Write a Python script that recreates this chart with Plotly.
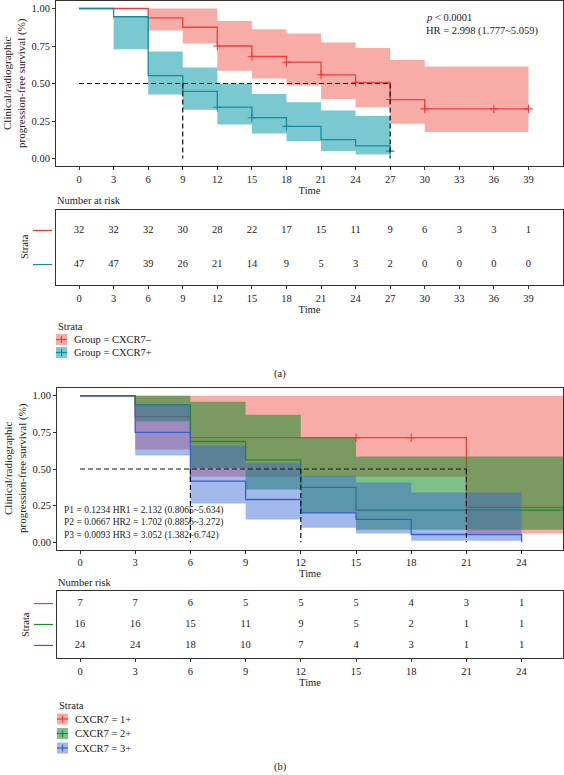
import plotly.graph_objects as go

# ---------------- Panel (a) data ----------------
a_labels = ["Group = CXCR7–", "Group = CXCR7+"]
a_time_neg = [0, 6, 9, 12, 15, 18, 21, 24, 27, 30, 39]
a_surv_neg = [1.0, 0.9375, 0.875, 0.75, 0.68, 0.642, 0.558, 0.508, 0.393, 0.331, 0.331]
a_upper_neg = [1.0, 1.0, 1.0, 0.916, 0.861, 0.834, 0.773, 0.737, 0.658, 0.614, 0.614]
a_lower_neg = [1.0, 0.854, 0.766, 0.585, 0.534, 0.486, 0.397, 0.342, 0.232, 0.177, 0.177]
a_cens_time_neg = [12, 15, 18, 21, 24, 27, 30, 36, 39]
a_cens_surv_neg = [0.75, 0.68, 0.642, 0.558, 0.508, 0.393, 0.331, 0.331, 0.331]

a_time_pos = [0, 3, 6, 9, 12, 15, 18, 21, 24, 27]
a_surv_pos = [1.0, 0.945, 0.552, 0.448, 0.342, 0.272, 0.214, 0.126, 0.084, 0.049]
a_upper_pos = [1.0, 0.945, 0.713, 0.607, 0.50, 0.43, 0.375, 0.32, 0.283, 0.283]
a_lower_pos = [1.0, 0.728, 0.426, 0.325, 0.227, 0.166, 0.117, 0.05, 0.026, 0.026]
a_cens_time_pos = [12, 15, 18, 27]
a_cens_surv_pos = [0.342, 0.272, 0.214, 0.049]

a_medians = [27, 9]
a_risk_times = [0, 3, 6, 9, 12, 15, 18, 21, 24, 27, 30, 33, 36, 39]
a_risk_neg = [32, 32, 32, 30, 28, 22, 17, 15, 11, 9, 6, 3, 3, 1]
a_risk_pos = [47, 47, 39, 26, 21, 14, 9, 5, 3, 2, 0, 0, 0, 0]
a_yticks = [0, 0.25, 0.5, 0.75, 1.0]
a_text = ["<i>p</i> &lt; 0.0001", "HR = 2.998 (1.777~5.059)"]

# ---------------- Panel (b) data ----------------
b_labels = ["CXCR7 = 1+", "CXCR7 = 2+", "CXCR7 = 3+"]
b_time_1 = [0, 3, 6, 21, 27]
b_surv_1 = [1.0, 0.857, 0.714, 0.238, 0.238]
b_upper_1 = [1.0, 1.0, 1.0, 1.0, 1.0]
b_lower_1 = [1.0, 0.633, 0.447, 0.06, 0.06]
b_cens_time_1 = [15, 18]
b_cens_surv_1 = [0.714, 0.714]

b_time_2 = [0, 3, 6, 9, 12, 15, 27]
b_surv_2 = [1.0, 0.9375, 0.6875, 0.5625, 0.375, 0.219, 0.219]
b_upper_2 = [1.0, 1.0, 0.959, 0.87, 0.713, 0.585, 0.585]
b_lower_2 = [1.0, 0.826, 0.507, 0.36, 0.2, 0.085, 0.085]

b_time_3 = [0, 3, 6, 9, 12, 15, 18, 24]
b_surv_3 = [1.0, 0.75, 0.417, 0.292, 0.2, 0.156, 0.053, 0.0]
b_upper_3 = [1.0, 0.943, 0.66, 0.54, 0.454, 0.408, 0.34, 0.34]
b_lower_3 = [1.0, 0.592, 0.264, 0.156, 0.099, 0.06, 0.01, 0.01]

b_medians = [21, 12, 6]
b_risk_times = [0, 3, 6, 9, 12, 15, 18, 21, 24]
b_risk_1 = [7, 7, 6, 5, 5, 5, 4, 3, 1]
b_risk_2 = [16, 16, 15, 11, 9, 5, 2, 1, 1]
b_risk_3 = [24, 24, 18, 10, 7, 4, 3, 1, 1]
b_text = ["P1 = 0.1234 HR1 = 2.132 (0.8065~5.634)",
          "P2 = 0.0667 HR2 = 1.702 (0.8856~3.272)",
          "P3 = 0.0093 HR3 = 3.052 (1.382~6.742)"]

# ---------------- styling ----------------
W, H = 564, 775
FONT = "Liberation Serif"
TXT = "#222222"
FRAME = "#333333"
RED_L, RED_F = "rgb(238,60,58)", "rgba(240,70,62,0.45)"
TEAL_L, TEAL_F = "rgb(24,138,152)", "rgba(0,150,165,0.52)"
GRN_L, GRN_F = "rgb(30,140,48)", "rgba(20,140,40,0.55)"
BLU_L, BLU_F = "rgb(58,92,200)", "rgba(50,100,210,0.45)"


def xp(px):
    return px / W


def yp(py):
    return 1 - py / H


fig = go.Figure()
NOHOV = dict(hoverinfo="skip", showlegend=False)


def add_curves(groups, xa, ya):
    # each stratum: survival step line, then its confidence band on top
    for g in groups:
        fig.add_trace(go.Scatter(x=g["t"], y=g["s"], mode="lines",
                                 line=dict(color=g["lc"], width=1.3, shape="hv"),
                                 xaxis=xa, yaxis=ya, **NOHOV))
        fig.add_trace(go.Scatter(x=g["t"], y=g["lo"], mode="lines",
                                 line=dict(width=0, shape="hv"),
                                 xaxis=xa, yaxis=ya, **NOHOV))
        fig.add_trace(go.Scatter(x=g["t"], y=g["up"], mode="lines", fill="tonexty",
                                 fillcolor=g["fc"], line=dict(width=0, shape="hv"),
                                 xaxis=xa, yaxis=ya, **NOHOV))


def add_cens(groups, xa, ya):
    for g in groups:
        if g.get("ct"):
            fig.add_trace(go.Scatter(x=g["ct"], y=g["cs"], mode="markers",
                                     marker=dict(symbol="cross-thin", size=6,
                                                 line=dict(color=g["lc"], width=1.1)),
                                     xaxis=xa, yaxis=ya, **NOHOV))


def add_medians(meds, xa, ya):
    xs, ys = [0, max(meds)], [0.5, 0.5]
    for m in meds:
        xs += [None, m, m]
        ys += [None, 0.5, 0]
    fig.add_trace(go.Scatter(x=xs, y=ys, mode="lines",
                             line=dict(color="#111111", width=1.2, dash="5px,3px"),
                             xaxis=xa, yaxis=ya, **NOHOV))


def add_risk(times, rows, xa, ya):
    n = len(rows)
    for i, r in enumerate(rows):
        fig.add_trace(go.Scatter(x=times, y=[n - i] * len(times), mode="text",
                                 text=[str(v) for v in r],
                                 textfont=dict(family=FONT, size=10.5, color=TXT),
                                 xaxis=xa, yaxis=ya, **NOHOV))


a_groups = [
    dict(t=a_time_neg, s=a_surv_neg, up=a_upper_neg, lo=a_lower_neg,
         ct=a_cens_time_neg, cs=a_cens_surv_neg, lc=RED_L, fc=RED_F),
    dict(t=a_time_pos, s=a_surv_pos, up=a_upper_pos, lo=a_lower_pos,
         ct=a_cens_time_pos, cs=a_cens_surv_pos, lc=TEAL_L, fc=TEAL_F),
]
b_groups = [
    dict(t=b_time_1, s=b_surv_1, up=b_upper_1, lo=b_lower_1,
         ct=b_cens_time_1, cs=b_cens_surv_1, lc=RED_L, fc=RED_F),
    dict(t=b_time_2, s=b_surv_2, up=b_upper_2, lo=b_lower_2, lc=GRN_L, fc=GRN_F),
    dict(t=b_time_3, s=b_surv_3, up=b_upper_3, lo=b_lower_3, lc=BLU_L, fc=BLU_F),
]

# panel (a)
add_curves(a_groups, "x", "y")
add_cens(a_groups, "x", "y")
add_medians(a_medians, "x", "y")
add_risk(a_risk_times, [a_risk_neg, a_risk_pos], "x2", "y2")
# panel (b)
add_curves(b_groups, "x3", "y3")
add_cens(b_groups, "x3", "y3")
add_medians(b_medians, "x3", "y3")
add_risk(b_risk_times, [b_risk_1, b_risk_2, b_risk_3], "x4", "y4")

tickfont = dict(family=FONT, size=10.5, color=TXT)
common = dict(showline=True, mirror=True, linecolor=FRAME, linewidth=1,
              showgrid=False, zeroline=False, tickfont=tickfont)


def xax(dom, rng, tv, anchor):
    return dict(domain=dom, range=rng, tickvals=tv, ticks="outside", ticklen=3,
                tickcolor=FRAME, anchor=anchor,
                title=dict(text="Time", font=dict(family=FONT, size=10.5, color=TXT),
                           standoff=1), **common)


A_X = [xp(56), xp(563)]
B_X = [xp(57), xp(563)]
fig.update_layout(
    xaxis=xax(A_X, [-2, 42], a_risk_times, "y"),
    yaxis=dict(domain=[yp(166), yp(1)], range=[-0.05, 1.05], tickvals=a_yticks,
               tickformat=".2f", ticks="outside", ticklen=3, tickcolor=FRAME,
               anchor="x", **common),
    xaxis2=xax(A_X, [-2, 42], a_risk_times, "y2"),
    yaxis2=dict(domain=[yp(285), yp(210)], range=[0.4, 2.6], showticklabels=False,
                ticks="", anchor="x2", **common),
    xaxis3=xax(B_X, [-1.25, 26.25], b_risk_times, "y3"),
    yaxis3=dict(domain=[yp(549.6), yp(388.4)], range=[-0.05, 1.05], tickvals=a_yticks,
                tickformat=".2f", ticks="outside", ticklen=3, tickcolor=FRAME,
                anchor="x3", **common),
    xaxis4=xax(B_X, [-1.25, 26.25], b_risk_times, "y4"),
    yaxis4=dict(domain=[yp(658), yp(591)], range=[0.4, 3.6], showticklabels=False,
                ticks="", anchor="x4", **common),
)

ann = []
shapes = []


def text(x, y, s, size=10.5, xanchor="left", angle=0, color=TXT):
    ann.append(dict(x=xp(x), y=yp(y), xref="paper", yref="paper", text=s,
                    showarrow=False, xanchor=xanchor, yanchor="middle",
                    textangle=angle, font=dict(family=FONT, size=size, color=color)))


ytitle = "Clinical/radiographic<br>progression-free survival (%)"
text(15, 83, ytitle, size=11, xanchor="center", angle=-90)
text(15, 468, ytitle, size=11, xanchor="center", angle=-90)

text(424, 17, a_text[0])
text(424, 31, a_text[1])
ann.append(dict(x=xp(62), y=yp(523), xref="paper", yref="paper",
                text="<br>".join(b_text), showarrow=False, xanchor="left",
                yanchor="middle", align="left",
                font=dict(family=FONT, size=9.5, color=TXT)))

text(55, 200, "Number at risk")
text(56, 582, "Number risk")
text(24, 247, "Strata", xanchor="center", angle=-90)
text(25, 625, "Strata", xanchor="center", angle=-90)

# strata colour marks next to risk tables
for i, g in enumerate(a_groups):
    shapes.append(dict(type="line", xref="paper", yref="y2", x0=xp(33), x1=xp(52),
                       y0=len(a_groups) - i, y1=len(a_groups) - i,
                       line=dict(color=g["lc"], width=1.2)))
for i, g in enumerate(b_groups):
    shapes.append(dict(type="line", xref="paper", yref="y4", x0=xp(34), x1=xp(53),
                       y0=len(b_groups) - i, y1=len(b_groups) - i,
                       line=dict(color=g["lc"], width=1.2)))


# legends
def legend(x0, ytitle_px, ys, labels, groups):
    text(x0, ytitle_px, "Strata")
    for y, lab, g in zip(ys, labels, groups):
        shapes.append(dict(type="rect", xref="paper", yref="paper",
                           x0=xp(x0), x1=xp(x0 + 11), y0=yp(y + 5.5), y1=yp(y - 5.5),
                           fillcolor=g["fc"], line=dict(width=0)))
        shapes.append(dict(type="line", xref="paper", yref="paper",
                           x0=xp(x0), x1=xp(x0 + 11), y0=yp(y), y1=yp(y),
                           line=dict(color=g["lc"], width=1.2)))
        shapes.append(dict(type="line", xref="paper", yref="paper",
                           x0=xp(x0 + 5.5), x1=xp(x0 + 5.5), y0=yp(y - 3.5), y1=yp(y + 3.5),
                           line=dict(color=g["lc"], width=1.2)))
        text(x0 + 16, y, lab)


legend(56, 326, [339.5, 352.5], a_labels, a_groups)
legend(57, 705, [719, 733.5, 748], b_labels, b_groups)

text(280, 374, "(a)", xanchor="center")
text(280, 767, "(b)", xanchor="center")

fig.update_layout(width=W, height=H, margin=dict(l=0, r=0, t=0, b=0),
                  paper_bgcolor="white", plot_bgcolor="white", showlegend=False,
                  annotations=ann, shapes=shapes)

fig.write_html("out.html", config={"displayModeBar": False},
               post_script="document.body.style.margin='0';"
                           "document.body.style.overflow='hidden';")
